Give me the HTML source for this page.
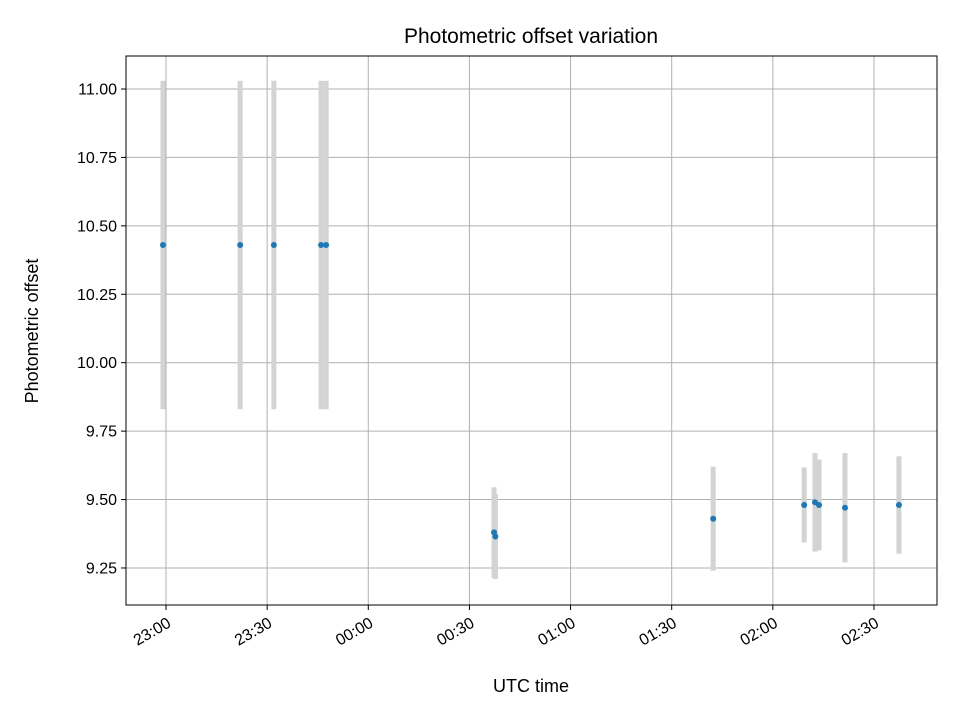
<!DOCTYPE html>
<html><head><meta charset="utf-8"><style>
body{margin:0;background:#fff;}
svg text{font-family:"Liberation Sans","DejaVu Sans",sans-serif;fill:#000;}
</style></head><body>
<svg id="chart" width="960" height="720" xmlns="http://www.w3.org/2000/svg">
<rect width="960" height="720" fill="#fff"/>
<g id="grid"></g>
<g id="bars"></g>
<g id="pts"></g>
<rect x="126" y="56" width="811" height="549" fill="none" stroke="#000" stroke-width="1"/>
<g id="ticks"></g>
<text x="531" y="43" font-size="21" text-anchor="middle">Photometric offset variation</text>
<text x="531" y="692" font-size="18" text-anchor="middle">UTC time</text>
<text transform="translate(38,331) rotate(-90)" font-size="18" text-anchor="middle">Photometric offset</text>
</svg>
<script>
// minutes after 23:00
const times=[-0.9,22,32,46,47.5,97.3,97.7,162.3,189.3,192.5,193.7,201.4,217.4];
const values=[10.43,10.43,10.43,10.43,10.43,9.38,9.365,9.43,9.48,9.49,9.48,9.47,9.48];
const errors=[0.6,0.6,0.6,0.6,0.6,0.165,0.155,0.19,0.137,0.18,0.166,0.2,0.178];
const xTickMinutes=[0,30,60,90,120,150,180,210];
const xTickLabels=["23:00","23:30","00:00","00:30","01:00","01:30","02:00","02:30"];
const yTicks=[9.25,9.5,9.75,10,10.25,10.5,10.75,11];
const yTickLabels=["9.25","9.50","9.75","10.00","10.25","10.50","10.75","11.00"];
const NS="http://www.w3.org/2000/svg";
const X=m=>166+m*(101.14/30);
const Y=v=>89+(11-v)*273.7;
function mk(tag,attrs,parent){const e=document.createElementNS(NS,tag);for(const k in attrs)e.setAttribute(k,attrs[k]);document.getElementById(parent).appendChild(e);return e;}
xTickMinutes.forEach((m,i)=>{
 const x=X(m);
 const g=mk('line',{x1:x,x2:x,y1:56,y2:605,stroke:'#b0b0b0','stroke-width':1},'grid');
 
 
 const t=mk('line',{x1:x,x2:x,y1:605,y2:610,stroke:'#000'},'ticks');
 
 
 const ax=x+6, ay=626;
 const l=mk('text',{x:ax,y:ay,'font-size':16,'text-anchor':'end',transform:`rotate(-30 ${ax} ${ay})`},'ticks');
 l.textContent=xTickLabels[i];
 
 
});
yTicks.forEach((v,i)=>{
 const y=Y(v);
 const g=mk('line',{x1:126,x2:937,y1:y,y2:y,stroke:'#b0b0b0','stroke-width':1},'grid');
 
 
 const t=mk('line',{x1:121,x2:126,y1:y,y2:y,stroke:'#000'},'ticks');
 
 
 const l=mk('text',{x:117,y:y+5.5,'font-size':16,'text-anchor':'end'},'ticks');
 l.textContent=yTickLabels[i];
 
 
});
times.forEach((m,i)=>{
 const x=X(m);
 const b=mk('rect',{x:x-2.5,y:Y(values[i]+errors[i]),width:5,height:Y(values[i]-errors[i])-Y(values[i]+errors[i]),fill:'#d3d3d3'},'bars');
 
 
});
times.forEach((m,i)=>{
 const c=mk('circle',{cx:X(m),cy:Y(values[i]),r:3,fill:'#1f77b4'},'pts');
 
 
});
</script>
</body></html>
